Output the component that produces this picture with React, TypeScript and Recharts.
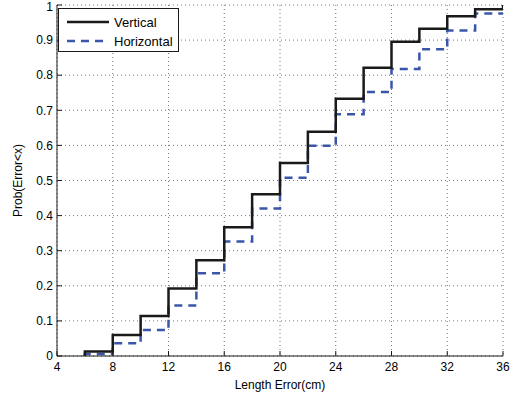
import React from "react";
import { LineChart, Line, XAxis, YAxis, CartesianGrid } from "recharts";

const lengthError = [6, 6, 8, 10, 12, 14, 16, 18, 20, 22, 24, 26, 28, 30, 32, 34, 36];
const verticalProb = [0, 0.013, 0.06, 0.114, 0.192, 0.273, 0.367, 0.461, 0.55, 0.639, 0.733, 0.821, 0.895, 0.932, 0.968, 0.988, 1.0];
const horizontalProb = [0, 0.006, 0.036, 0.074, 0.144, 0.236, 0.326, 0.42, 0.508, 0.599, 0.689, 0.752, 0.818, 0.874, 0.927, 0.976, 0.976];
const xTicks = [4, 8, 12, 16, 20, 24, 28, 32, 36];
const yTicks = [0, 0.1, 0.2, 0.3, 0.4, 0.5, 0.6, 0.7, 0.8, 0.9, 1];
const seriesNames = ["Vertical", "Horizontal"];

const data = lengthError.map((x, i) => ({ x, v: verticalProb[i], h: horizontalProb[i] }));

const FONT = "'Liberation Sans', Arial, Helvetica, sans-serif";
const BLACK = "#1a1a1a";
const BLUE = "#3a56a8";

const YTick = (props: any) => {
  const { x, y, payload } = props;
  const yy = Math.max(y, 7);
  return (
    <text x={x} y={yy} dy="0.355em" textAnchor="end" fontFamily={FONT} fontSize={12} fill="#000">
      {payload.value}
    </text>
  );
};

const LegendBox = () => (
  <div
    style={{
      position: "absolute",
      left: 58,
      top: 8,
      width: 121,
      height: 44,
      border: `1px solid ${BLACK}`,
      background: "#fff",
      boxSizing: "border-box",
    }}
  >
    <svg width={121} height={44} style={{ position: "absolute", left: -1, top: -1 }}>
      <line x1={9} y1={14} x2={51} y2={14} stroke={BLACK} strokeWidth={2.5} />
      <line x1={9} y1={33} x2={51} y2={33} stroke={BLUE} strokeWidth={2.5} strokeDasharray="8 6" />
      <text x={56} y={18.5} fontFamily={FONT} fontSize={13} fill="#000">{seriesNames[0]}</text>
      <text x={56} y={37.5} fontFamily={FONT} fontSize={13} fill="#000">{seriesNames[1]}</text>
    </svg>
  </div>
);

export default function App() {
  return (
    <div style={{ position: "absolute", left: 0, top: 0, width: 514, height: 398, background: "#fff" }}>
      <LineChart
        width={514}
        height={398}
        data={data}
        margin={{ top: 5, right: 11, bottom: 0, left: 0 }}
        style={{ fontFamily: FONT }}
      >
        <CartesianGrid stroke="#777" strokeDasharray="1 3" strokeWidth={1} />
        <XAxis
          dataKey="x"
          type="number"
          domain={[4, 36]}
          ticks={xTicks}
          height={42}
          stroke={BLACK}
          tickSize={-5}
          tickMargin={11}
          tick={{ fill: "#000", fontSize: 12, fontFamily: FONT }}
          interval={0}
          allowDataOverflow
          label={{ value: "Length Error(cm)", position: "insideBottom", offset: 9, fill: "#000", fontSize: 12, fontFamily: FONT }}
        />
        <XAxis
          xAxisId="top"
          dataKey="x"
          type="number"
          domain={[4, 36]}
          ticks={xTicks}
          orientation="top"
          height={0}
          stroke={BLACK}
          tickSize={-5}
          tick={false}
        />
        <YAxis
          type="number"
          domain={[0, 1]}
          ticks={yTicks}
          width={57}
          stroke={BLACK}
          tickSize={-5}
          tickMargin={9}
          interval={0}
          tick={<YTick />}
          label={{ value: "Prob(Error<x)", angle: -90, position: "insideLeft", offset: 18, fill: "#000", fontSize: 12, fontFamily: FONT, style: { textAnchor: "middle" } }}
        />
        <YAxis
          yAxisId="right"
          type="number"
          domain={[0, 1]}
          ticks={yTicks}
          orientation="right"
          width={0}
          stroke={BLACK}
          tickSize={-5}
          tick={false}
        />
        <Line
          type="stepAfter"
          dataKey="h"
          name={seriesNames[1]}
          stroke={BLUE}
          strokeWidth={2.5}
          strokeDasharray="8 6"
          dot={false}
          isAnimationActive={false}
        />
        <Line
          type="stepAfter"
          dataKey="v"
          name={seriesNames[0]}
          stroke={BLACK}
          strokeWidth={2.5}
          dot={false}
          isAnimationActive={false}
        />
      </LineChart>
      <LegendBox />
    </div>
  );
}
